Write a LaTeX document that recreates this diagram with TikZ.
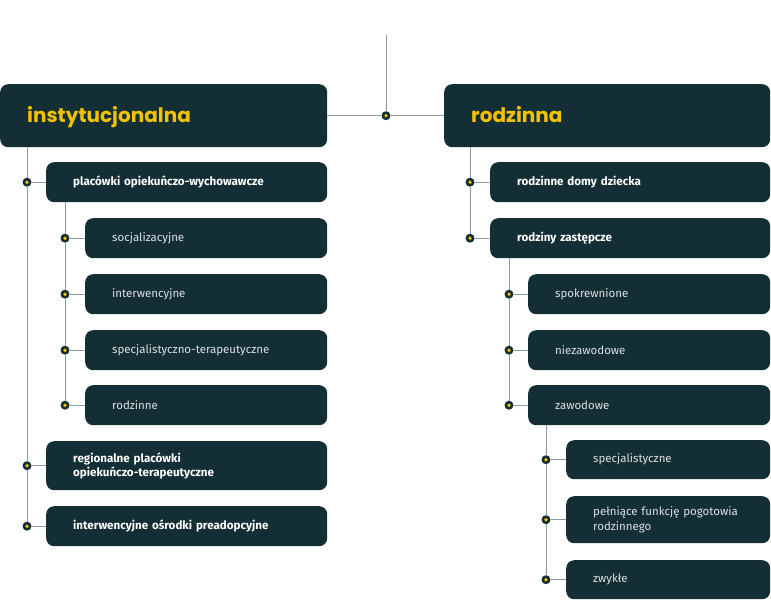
\documentclass[tikz,border=0pt]{standalone}
\usepackage{fontspec}
\setmainfont{Fira Sans}
\newfontfamily\titlefont{Poppins}
\definecolor{boxc}{HTML}{132F35}
\definecolor{yel}{HTML}{F2C200}
\definecolor{linec}{HTML}{8A9DA5}
\definecolor{gtext}{HTML}{DDE1E3}
\tikzset{
  x=1pt, y=-1pt,
}
\tikzstyle{box}=[fill=boxc, rounded corners=8pt, anchor=north west, inner xsep=27pt, inner ysep=0pt, align=left]
\tikzstyle{head}=[box, minimum height=63pt, text height=16pt, text depth=3pt, font=\titlefont\bfseries\fontsize{20}{22}\selectfont, text=yel]
\tikzstyle{main}=[box, minimum height=40pt, font=\bfseries\fontsize{11.6}{14.5}\selectfont, text=white]
\tikzstyle{sub}=[box, minimum height=40pt, font=\fontsize{11.5}{14.5}\selectfont, text=gtext]
\tikzstyle{link}=[draw=linec, line width=0.8pt]
\tikzstyle{dot}=[circle, fill=boxc, minimum size=9pt, inner sep=0pt,
  path picture={\fill[yel] (path picture bounding box.center) circle (1.8pt);}]

\begin{document}
\begin{tikzpicture}
  \useasboundingbox (0,0) rectangle (771,600);
  \node[head, text width=273pt] (inst) at (0,84) {instytucjonalna};
  \node[head, text width=272pt] (rod) at (444,84) {rodzinna};
  \coordinate (top) at (386,35);
  \node[dot] (d0) at (inst.east -| top) {};
  \draw[link] (top) -- (d0);
  \draw[link] (inst.east) -- (d0) -- (rod.west);

  \node[main, text width=227pt] (p1) at (46,162) {placówki opiekuńczo-wychowawcze};
  \node[sub, text width=188pt] (s1) at (85,218) {socjalizacyjne};
  \node[sub, text width=188pt] (s2) at (85,274) {interwencyjne};
  \node[sub, text width=188pt] (s3) at (85,330) {specjalistyczno-terapeutyczne};
  \node[sub, text width=188pt] (s4) at (85,385) {rodzinne};
  \node[main, text width=227pt, minimum height=49pt] (p2) at (46,441) {regionalne placówki\\opiekuńczo-terapeutyczne};
  \node[main, text width=227pt] (p3) at (46,506) {interwencyjne ośrodki preadopcyjne};

  \node[dot] (dp1) at (27,0 |- p1.west) {};
  \node[dot] (dp2) at (27,0 |- p2.west) {};
  \node[dot] (dp3) at (27,0 |- p3.west) {};
  \draw[link] (inst.south -| dp1) -- (dp1) -- (dp2) -- (dp3);
  \draw[link] (dp1) -- (p1);
  \draw[link] (dp2) -- (p2);
  \draw[link] (dp3) -- (p3);

  \node[dot] (ds1) at (65,0 |- s1.west) {};
  \node[dot] (ds2) at (65,0 |- s2.west) {};
  \node[dot] (ds3) at (65,0 |- s3.west) {};
  \node[dot] (ds4) at (65,0 |- s4.west) {};
  \draw[link] (p1.south -| ds1) -- (ds1) -- (ds2) -- (ds3) -- (ds4);
  \draw[link] (ds1) -- (s1);
  \draw[link] (ds2) -- (s2);
  \draw[link] (ds3) -- (s3);
  \draw[link] (ds4) -- (s4);

  \node[main, text width=226pt] (r1) at (490,162) {rodzinne domy dziecka};
  \node[main, text width=226pt] (r2) at (490,218) {rodziny zastępcze};
  \node[sub, text width=188pt] (z1) at (528,274) {spokrewnione};
  \node[sub, text width=188pt] (z2) at (528,330) {niezawodowe};
  \node[sub, text width=188pt] (z3) at (528,385) {zawodowe};
  \node[sub, text width=150pt, minimum height=39pt] (y1) at (566,440) {specjalistyczne};
  \node[sub, text width=150pt, minimum height=47pt] (y2) at (566,496) {pełniące funkcję pogotowia\\rodzinnego};
  \node[sub, text width=150pt, minimum height=39pt] (y3) at (566,560) {zwykłe};

  \node[dot] (dr1) at (470,0 |- r1.west) {};
  \node[dot] (dr2) at (470,0 |- r2.west) {};
  \draw[link] (rod.south -| dr1) -- (dr1) -- (dr2);
  \draw[link] (dr1) -- (r1);
  \draw[link] (dr2) -- (r2);

  \node[dot] (dz1) at (509,0 |- z1.west) {};
  \node[dot] (dz2) at (509,0 |- z2.west) {};
  \node[dot] (dz3) at (509,0 |- z3.west) {};
  \draw[link] (r2.south -| dz1) -- (dz1) -- (dz2) -- (dz3);
  \draw[link] (dz1) -- (z1);
  \draw[link] (dz2) -- (z2);
  \draw[link] (dz3) -- (z3);

  \node[dot] (dy1) at (546,0 |- y1.west) {};
  \node[dot] (dy2) at (546,0 |- y2.west) {};
  \node[dot] (dy3) at (546,0 |- y3.west) {};
  \draw[link] (z3.south -| dy1) -- (dy1) -- (dy2) -- (dy3);
  \draw[link] (dy1) -- (y1);
  \draw[link] (dy2) -- (y2);
  \draw[link] (dy3) -- (y3);
\end{tikzpicture}
\end{document}
